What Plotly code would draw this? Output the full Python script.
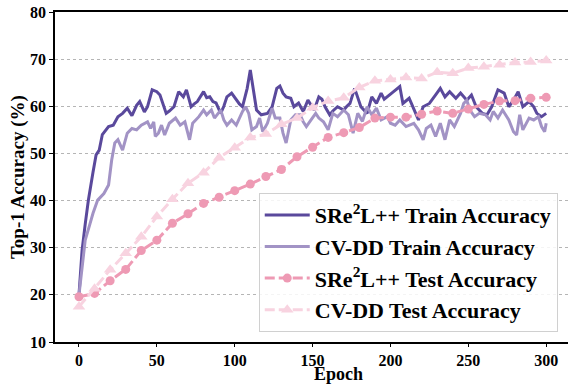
import plotly.graph_objects as go

# ---------------- data ----------------
sre_train_epochs = [0,2,4,6,9,11,13,15,19,22,25,28,31,34,37,39,42,44,47,50,52,54,56,58,61,64,67,69,72,74,76,80,82,84,86,88,91,93,95,98,101,103,105,108,110,112,114,117,121,124,127,129,131,133,136,138,141,144,147,151,154,156,158,161,163,166,170,172,174,177,181,185,188,191,194,196,199,202,206,208,212,215,218,221,225,229,232,235,238,242,245,249,252,255,259,262,265,269,273,276,279,282,285,289,292,294,297,300]
sre_train_acc = [20.0,29.5,35.0,40.0,46.0,49.7,50.7,54.0,55.7,56.0,57.8,58.5,59.6,58.0,60.2,61.0,58.8,59.9,63.5,63.1,62.4,60.5,58.5,59.0,59.9,63.1,62.0,63.5,59.9,60.5,61.0,63.1,61.8,62.0,61.0,60.7,58.5,60.0,62.0,62.8,61.3,60.5,59.9,63.8,67.7,63.5,59.2,58.2,58.5,59.9,63.8,64.3,62.8,62.0,61.7,59.9,60.7,58.9,61.3,59.2,62.0,61.5,59.9,58.2,59.0,59.9,59.2,60.0,60.6,63.8,59.9,58.5,62.0,60.6,62.8,61.5,62.4,63.1,64.2,60.6,61.7,59.2,57.1,59.9,60.6,62.4,63.8,62.0,63.1,61.7,62.8,61.3,62.4,59.9,58.5,58.2,59.9,63.5,62.8,59.9,61.3,63.1,59.9,61.0,59.9,58.5,57.8,58.5]

cvdd_train_epochs = [0,2,4,7,9,12,16,19,21,23,25,28,31,34,37,40,44,46,48,49,51,53,55,58,62,65,68,71,73,77,80,82,85,87,91,93,95,98,101,105,107,109,111,114,116,118,121,124,126,129,131,133,136,139,142,144,146,149,152,154,157,160,163,166,170,173,176,179,182,185,188,191,194,198,200,203,206,210,215,218,221,223,226,229,232,235,238,241,245,247,249,251,254,257,261,264,266,269,272,276,279,281,283,285,289,292,295,297,299,300]
cvdd_train_acc = [20.0,26.0,31.6,35.0,37.3,40.1,41.5,43.3,48.6,52.2,52.9,50.7,54.3,55.3,55.0,56.0,56.7,55.3,56.7,53.6,54.3,56.0,53.9,56.4,57.5,56.0,56.7,52.9,56.4,57.8,59.2,58.2,59.2,57.5,59.2,57.1,56.0,57.1,56.0,58.9,59.9,58.5,55.0,55.7,57.5,54.6,56.4,59.6,57.5,57.5,54.3,52.2,57.1,58.2,58.2,56.7,55.7,57.1,58.5,57.5,56.7,55.0,58.5,57.8,59.2,58.2,54.3,58.5,56.8,59.9,58.2,59.6,57.1,57.8,56.4,56.0,57.1,55.7,56.4,55.0,52.9,55.3,56.0,53.6,56.4,52.9,57.1,55.7,58.5,60.6,61.3,59.2,57.8,58.5,58.2,57.1,58.9,57.5,59.2,57.1,54.6,53.9,58.2,55.0,57.5,57.1,57.8,55.7,54.6,56.4]

test_epochs = [0,10,20,30,40,50,60,70,80,90,100,110,120,130,140,150,160,170,180,190,200,210,220,230,240,250,260,270,280,290,300]
sre_test_acc = [19.6,20.3,23.0,25.4,29.4,31.6,35.2,37.2,39.4,40.7,42.1,43.5,45.1,46.6,49.3,51.3,53.4,54.4,55.5,57.5,57.7,57.7,58.3,59.0,58.5,59.4,60.4,61.1,61.2,61.7,61.9]
cvdd_test_acc = [17.5,21.3,25.3,28.8,32.3,36.6,40.3,43.7,45.9,49.1,51.2,53.4,54.1,56.2,57.5,59.7,61.1,61.8,64.0,65.4,65.7,66.1,65.9,67.2,67.0,68.1,68.4,68.8,69.3,69.4,69.7]

names = ["SRe<sup>2</sup>L++ Train Accuracy", "CV-DD Train Accuracy",
         "SRe<sup>2</sup>L++ Test Accuracy", "CV-DD Test Accuracy"]
x_ticks = [0, 50, 100, 150, 200, 250, 300]
y_ticks = [10, 20, 30, 40, 50, 60, 70, 80]
x_title = "Epoch"
y_title = "Top-1 Accuracy (%)"

# ---------------- figure ----------------
C_DARK = "#5a499c"
C_LIGHT = "#a293c5"
C_PINK = "#ee9ab4"
C_LPINK = "#f8d3e0"
LW = 3

FONT = "Liberation Serif"
BF = dict(family=FONT, color="black", weight="bold")

fig = go.Figure()
fig.add_trace(go.Scatter(x=sre_train_epochs, y=sre_train_acc, mode="lines", name="<b>" + names[0] + "</b>",
                         legendgroup="a", line=dict(color=C_DARK, width=LW)))
fig.add_trace(go.Scatter(x=cvdd_train_epochs, y=cvdd_train_acc, mode="lines", name="<b>" + names[1] + "</b>",
                         legendgroup="b", line=dict(color=C_LIGHT, width=LW)))
fig.add_trace(go.Scatter(x=test_epochs, y=sre_test_acc, mode="lines+markers", name="<b>" + names[2] + "</b>",
                         legendgroup="c",
                         line=dict(color=C_PINK, width=LW, dash="10px,4px"),
                         marker=dict(symbol="circle", size=9, color=C_PINK)))
fig.add_trace(go.Scatter(x=test_epochs, y=cvdd_test_acc, mode="lines+markers", name="<b>" + names[3] + "</b>",
                         legendgroup="d",
                         line=dict(color=C_LPINK, width=LW, dash="10px,4px"),
                         marker=dict(symbol="triangle-up", size=11, color=C_LPINK)))

fig.update_layout(
    width=568, height=385,
    margin=dict(l=55, r=0, t=12, b=43),
    plot_bgcolor="white", paper_bgcolor="white",
    font=dict(family=FONT, color="black"),
    showlegend=True,
    legend=dict(
        x=0.98, y=0.03, xanchor="right", yanchor="bottom",
        bgcolor="rgba(255,255,255,0.85)", bordercolor="#d0d0d0", borderwidth=1,
        font=dict(BF, size=22),
        itemwidth=45, traceorder="grouped", tracegroupgap=0,
    ),
    xaxis=dict(
        range=[-15.4, 314], tickvals=x_ticks, ticktext=["<b>%d</b>" % v for v in x_ticks],
        showgrid=False, zeroline=False,
        showline=True, linecolor="black", linewidth=1.5, mirror=True,
        ticks="outside", ticklen=3, tickcolor="black",
        tickfont=dict(BF, size=16),
        automargin=False,
    ),
    yaxis=dict(
        range=[10, 80], tickvals=y_ticks, ticktext=["<b>%d</b>" % v for v in y_ticks],
        showgrid=True, gridcolor="#b5b5b5", gridwidth=1,
        griddash="dot", zeroline=False,
        showline=True, linecolor="black", linewidth=1.5,
        ticks="outside", ticklen=4, tickcolor="black",
        tickfont=dict(BF, size=16),
        automargin=False,
    ),
    annotations=[
        dict(text="<b>" + x_title + "</b>", xref="paper", yref="paper", x=0.5517, y=-0.1303,
             xanchor="center", yanchor="bottom", showarrow=False, borderpad=0, font=dict(BF, size=18)),
        dict(text="<b>" + y_title + "</b>", xref="paper", yref="paper", x=-0.072, y=0.5,
             xanchor="center", yanchor="middle", textangle=-90, showarrow=False, font=dict(BF, size=19)),
    ],
)

fig.write_html("out.html")
